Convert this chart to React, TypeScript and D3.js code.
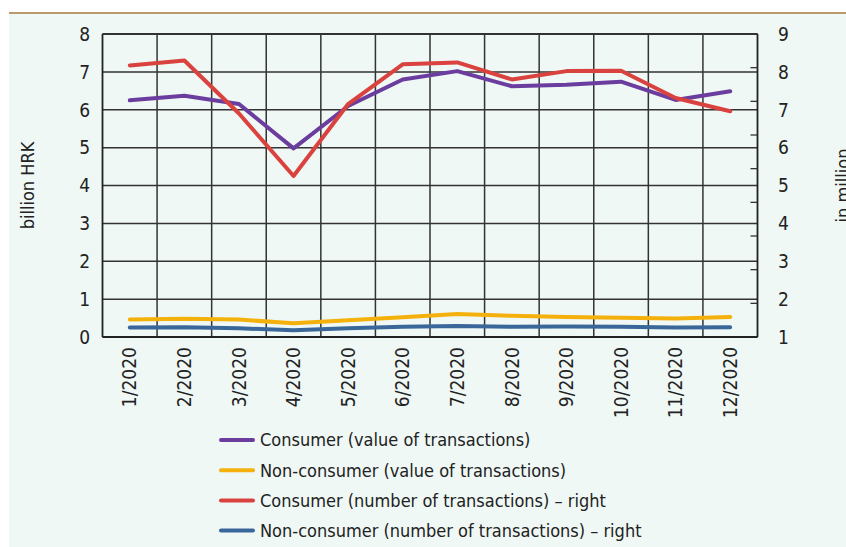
import React from "react";
import * as d3 from "d3";

const months = ["1/2020","2/2020","3/2020","4/2020","5/2020","6/2020","7/2020","8/2020","9/2020","10/2020","11/2020","12/2020"];
const consumerValue = [6.25, 6.37, 6.15, 4.98, 6.1, 6.8, 7.02, 6.62, 6.66, 6.74, 6.26, 6.49];
const nonConsumerValue = [0.46, 0.48, 0.46, 0.36, 0.44, 0.52, 0.61, 0.56, 0.53, 0.51, 0.49, 0.53];
const consumerNumber = [8.17, 8.3, 6.9, 5.25, 7.15, 8.2, 8.25, 7.8, 8.02, 8.03, 7.31, 6.96];
const nonConsumerNumber = [1.25, 1.26, 1.23, 1.18, 1.23, 1.27, 1.29, 1.27, 1.28, 1.27, 1.25, 1.26];
const leftTicks = [0, 1, 2, 3, 4, 5, 6, 7, 8];
const rightTicks = [1, 2, 3, 4, 5, 6, 7, 8, 9];
const legendLabels = [
  "Consumer (value of transactions)",
  "Non-consumer (value of transactions)",
  "Consumer (number of transactions) – right",
  "Non-consumer (number of transactions) – right",
];
const colors = ["#6a3d9f", "#f4b10b", "#d9423e", "#3a6799"];

const W = 846, H = 547;
const M = { left: 102.5, right: 757.5, top: 34, bottom: 337 };
const FONT = "'Liberation Sans Narrow', 'DejaVu Sans Condensed', Arial, sans-serif";

export default function App() {
  const x = d3.scaleBand<string>().domain(months).range([M.left, M.right]);
  const yL = d3.scaleLinear().domain([0, 8]).range([M.bottom, M.top]);
  const yR = d3.scaleLinear().domain([1, 9]).range([M.bottom, M.top]);
  const yRminor = d3.scaleLinear().domain([0, 9]).range([M.bottom, M.top]);
  const cx = (m: string) => (x(m) as number) + x.bandwidth() / 2;

  const lineL = d3.line<number>().x((_, i) => cx(months[i])).y((v) => yL(v));
  const lineR = d3.line<number>().x((_, i) => cx(months[i])).y((v) => yR(v));

  const series = [
    { data: consumerValue, gen: lineL },
    { data: nonConsumerValue, gen: lineL },
    { data: consumerNumber, gen: lineR },
    { data: nonConsumerNumber, gen: lineR },
  ];
  const drawOrder = [1, 3, 0, 2];

  const vLines = months.slice(1).map((m) => x(m) as number);

  return (
    <svg width={W} height={H} style={{ position: "absolute", left: 0, top: 0 }} fontFamily={FONT}>
      <rect x={9} y={13} width={W - 9} height={H - 13} fill="#eff8f5" />
      <line x1={9} x2={W} y1={13} y2={13} stroke="#b89b6b" strokeWidth={2} />

      {/* grid */}
      {leftTicks.map((t) => (
        <line key={"h" + t} x1={M.left} x2={M.right} y1={yL(t)} y2={yL(t)} stroke="#333" strokeWidth={1.5} />
      ))}
      {vLines.map((v, i) => (
        <line key={"v" + i} x1={v} x2={v} y1={M.top} y2={M.bottom} stroke="#333" strokeWidth={1.5} />
      ))}
      {/* frame */}
      <line x1={M.left} x2={M.left} y1={M.top} y2={M.bottom} stroke="#222" strokeWidth={1.8} />
      <line x1={M.right} x2={M.right} y1={M.top} y2={M.bottom} stroke="#222" strokeWidth={1.8} />
      <line x1={M.left} x2={M.right} y1={M.bottom} y2={M.bottom} stroke="#222" strokeWidth={2.2} />
      <line x1={M.left} x2={M.right} y1={M.top} y2={M.top} stroke="#333" strokeWidth={1.8} />
      {d3.range(1, 9).map((t) => (
        <line key={"rt" + t} x1={M.right - 7} x2={M.right} y1={yRminor(t)} y2={yRminor(t)} stroke="#333" strokeWidth={1.3} />
      ))}

      {/* left ticks */}
      {leftTicks.map((t) => (
        <text key={"lt" + t} x={90} y={yL(t)} dy="0.36em" textAnchor="end" fontSize={19} fill="#222">{t}</text>
      ))}
      {rightTicks.map((t) => (
        <text key={"rtl" + t} x={778} y={yR(t)} dy="0.36em" textAnchor="start" fontSize={19} fill="#222">{t}</text>
      ))}
      {months.map((m) => (
        <text key={"x" + m} transform={`translate(${cx(m)},347) rotate(-90)`} dy="0.35em" textAnchor="end" fontSize={19} fill="#222">{m}</text>
      ))}

      <text transform={`translate(28,${(M.top + M.bottom) / 2}) rotate(-90)`} textAnchor="middle" dy="0.35em" fontSize={18} fill="#222">billion HRK</text>
      <text transform={`translate(843,${(M.top + M.bottom) / 2}) rotate(-90)`} textAnchor="middle" dy="0.35em" fontSize={18} fill="#222">in million</text>

      {drawOrder.map((i) => (
        <path key={"s" + i} d={series[i].gen(series[i].data) || ""} fill="none" stroke={colors[i]} strokeWidth={4} strokeLinejoin="round" strokeLinecap="round" />
      ))}

      {/* legend */}
      {legendLabels.map((l, i) => (
        <g key={"lg" + i} transform={`translate(221,${440 + i * 30.2})`}>
          <line x1={0} x2={32} y1={0} y2={0} stroke={colors[i]} strokeWidth={4} strokeLinecap="round" />
          <text x={39} y={0} dy="0.35em" fontSize={18} fill="#222">{l}</text>
        </g>
      ))}
    </svg>
  );
}
